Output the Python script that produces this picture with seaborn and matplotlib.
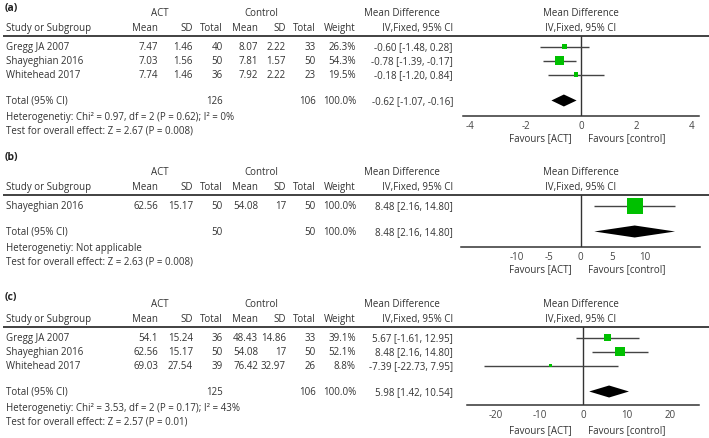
## Forest plots (ACT vs control): three meta-analysis panels drawn with seaborn/matplotlib.

import numpy as np
import pandas as pd
import matplotlib
matplotlib.use('Agg')
import matplotlib.pyplot as plt
import seaborn as sns

# ---- data ----
studies_a = ["Gregg JA 2007", "Shayeghian 2016", "Whitehead 2017"]
act_mean_a = [7.47, 7.03, 7.74]
act_sd_a = [1.46, 1.56, 1.46]
act_n_a = [40, 50, 36]
ctl_mean_a = [8.07, 7.81, 7.92]
ctl_sd_a = [2.22, 1.57, 2.22]
ctl_n_a = [33, 50, 23]
weight_a = [26.3, 54.3, 19.5]
md_a = [-0.60, -0.78, -0.18]
lo_a = [-1.48, -1.39, -1.20]
hi_a = [0.28, -0.17, 0.84]
total_a = [-0.62, -1.07, -0.16]
total_n_a = [126, 106]
het_a = "Heterogenetiy: Chi² = 0.97, df = 2 (P = 0.62); I² = 0%"
test_a = "Test for overall effect: Z = 2.67 (P = 0.008)"
ticks_a = [-4, -2, 0, 2, 4]

studies_b = ["Shayeghian 2016"]
act_mean_b = [62.56]
act_sd_b = [15.17]
act_n_b = [50]
ctl_mean_b = [54.08]
ctl_sd_b = [17]
ctl_n_b = [50]
weight_b = [100.0]
md_b = [8.48]
lo_b = [2.16]
hi_b = [14.80]
total_b = [8.48, 2.16, 14.80]
total_n_b = [50, 50]
het_b = "Heterogenetiy: Not applicable"
test_b = "Test for overall effect: Z = 2.63 (P = 0.008)"
ticks_b = [-10, -5, 0, 5, 10]

studies_c = ["Gregg JA 2007", "Shayeghian 2016", "Whitehead 2017"]
act_mean_c = [54.1, 62.56, 69.03]
act_sd_c = [15.24, 15.17, 27.54]
act_n_c = [36, 50, 39]
ctl_mean_c = [48.43, 54.08, 76.42]
ctl_sd_c = [14.86, 17, 32.97]
ctl_n_c = [33, 50, 26]
weight_c = [39.1, 52.1, 8.8]
md_c = [5.67, 8.48, -7.39]
lo_c = [-1.61, 2.16, -22.73]
hi_c = [12.95, 14.80, 7.95]
total_c = [5.98, 1.42, 10.54]
total_n_c = [125, 106]
het_c = "Heterogenetiy: Chi² = 3.53, df = 2 (P = 0.17); I² = 43%"
test_c = "Test for overall effect: Z = 2.57 (P = 0.01)"
ticks_c = [-20, -10, 0, 10, 20]

W, H = 709, 439
TXT = '#333333'
GREEN = '#00c000'
FS = 7.0

sns.set_theme(style='white')
plt.rcParams['font.family'] = ['Open Sans', 'DejaVu Sans']
plt.rcParams['axes.unicode_minus'] = False

fig = plt.figure(figsize=(W / 100, H / 100), dpi=100)
bg = fig.add_axes([0, 0, 1, 1])
bg.set_xlim(0, W)
bg.set_ylim(H, 0)
bg.axis('off')

# column right edges (pixels)
COLS = {'act_mean': 158, 'act_sd': 193, 'act_n': 223,
        'ctl_mean': 258, 'ctl_sd': 286, 'ctl_n': 316,
        'weight': 356, 'md': 453}


def txt(x, y, s, ha='right', **kw):
    kw.setdefault('fontsize', FS)
    kw.setdefault('color', TXT)
    bg.text(x, y, s, ha=ha, va='center', **kw)


def fmt(v):
    return f"{v:g}"


def draw_panel(label, label_y, head_y, df, total, total_n, het, test,
               ax_px, xmax, ticks, axis_y, fav_y):
    n = len(df)
    head2_y = head_y + 14.5
    line_y = head_y + 23
    row0 = head_y + 33.5
    rows = row0 + 14 * np.arange(n)
    total_y = row0 + 14 * (n + 1) - 2

    txt(5, label_y, label, ha='left', fontweight='bold', fontsize=7.5, color='#222222')
    txt(160, head_y, 'ACT', ha='center')
    txt(261, head_y, 'Control', ha='center')
    txt(402, head_y, 'Mean Difference', ha='center')
    txt(581, head_y, 'Mean Difference', ha='center')
    txt(6, head2_y, 'Study or Subgroup', ha='left')
    for key, name in [('act_mean', 'Mean'), ('act_sd', 'SD'), ('act_n', 'Total'),
                      ('ctl_mean', 'Mean'), ('ctl_sd', 'SD'), ('ctl_n', 'Total'),
                      ('weight', 'Weight'), ('md', 'IV,Fixed, 95% CI')]:
        txt(COLS[key], head2_y, name)
    txt(581, head2_y, 'IV,Fixed, 95% CI', ha='center')
    bg.hlines(line_y, 3, W, color=TXT, lw=1.3)

    for y, (_, r) in zip(rows, df.iterrows()):
        txt(6, y, r['study'], ha='left')
        txt(COLS['act_mean'], y, fmt(r['act_mean']))
        txt(COLS['act_sd'], y, fmt(r['act_sd']))
        txt(COLS['act_n'], y, f"{r['act_n']:.0f}")
        txt(COLS['ctl_mean'], y, fmt(r['ctl_mean']))
        txt(COLS['ctl_sd'], y, fmt(r['ctl_sd']))
        txt(COLS['ctl_n'], y, f"{r['ctl_n']:.0f}")
        txt(COLS['weight'], y, f"{r['weight']:.1f}%")
        txt(COLS['md'], y, f"{r['md']:.2f} [{r['lo']:.2f}, {r['hi']:.2f}]")

    txt(6, total_y, 'Total (95% CI)', ha='left')
    txt(COLS['act_n'], total_y, str(total_n[0]))
    txt(COLS['ctl_n'], total_y, str(total_n[1]))
    txt(COLS['weight'], total_y, '100.0%')
    txt(COLS['md'], total_y, f"{total[0]:.2f} [{total[1]:.2f}, {total[2]:.2f}]")
    txt(6, total_y + 16, het, ha='left')
    txt(6, total_y + 30, test, ha='left')

    # forest axes, y in figure pixel rows
    x0, x1 = ax_px
    ax = fig.add_axes([x0 / W, 1 - axis_y / H, (x1 - x0) / W, (axis_y - line_y) / H])
    ax.set_xlim(-xmax, xmax)
    ax.set_ylim(axis_y, line_y)
    ax.patch.set_alpha(0)
    sns.despine(ax=ax, left=True, top=True, right=True)
    ax.spines['bottom'].set_color(TXT)
    ax.spines['bottom'].set_linewidth(1.1)
    ax.set_yticks([])
    ax.set_xticks(ticks)
    ax.tick_params(axis='x', direction='inout', length=6, width=1.0, color=TXT,
                   labelsize=FS, labelcolor='#444444', pad=0)
    ax.axvline(0, color=TXT, lw=1.0)

    d = df.assign(y=rows)
    ax.hlines(d['y'], d['lo'], d['hi'], color='#444444', lw=1.0)
    side_pt = (1.5 + 14.5 * d['weight'] / 100) * 0.72
    sns.scatterplot(data=d, x='md', y='y', marker='s', color=GREEN,
                    s=side_pt ** 2, linewidth=0, ax=ax, legend=False, zorder=3)
    ax.fill([total[1], total[0], total[2], total[0]],
            [total_y, total_y - 6, total_y, total_y + 6], color='black', lw=0)
    ax.set_xlabel('')
    ax.set_ylabel('')

    txt(572, fav_y, 'Favours [ACT]', ha='right')
    txt(588, fav_y, 'Favours [control]', ha='left')


def frame(studies, am, asd, an, cm, csd, cn, w, md, lo, hi):
    return pd.DataFrame({'study': studies, 'act_mean': am, 'act_sd': asd, 'act_n': an,
                         'ctl_mean': cm, 'ctl_sd': csd, 'ctl_n': cn,
                         'weight': w, 'md': md, 'lo': lo, 'hi': hi})


df_a = frame(studies_a, act_mean_a, act_sd_a, act_n_a, ctl_mean_a, ctl_sd_a, ctl_n_a,
             weight_a, md_a, lo_a, hi_a)
df_b = frame(studies_b, act_mean_b, act_sd_b, act_n_b, ctl_mean_b, ctl_sd_b, ctl_n_b,
             weight_b, md_b, lo_b, hi_b)
df_c = frame(studies_c, act_mean_c, act_sd_c, act_n_c, ctl_mean_c, ctl_sd_c, ctl_n_c,
             weight_c, md_c, lo_c, hi_c)

draw_panel('(a)', 8, 14, df_a, total_a, total_n_a, het_a, test_a,
           (463, 699), 4.27, ticks_a, 117, 139)
draw_panel('(b)', 158, 173, df_b, total_b, total_n_b, het_b, test_b,
           (461, 700), 18.7, ticks_b, 248, 270)
draw_panel('(c)', 298, 305, df_c, total_c, total_n_c, het_c, test_c,
           (467, 699), 26.6, ticks_c, 406, 431)

fig.savefig('out.png', dpi=100)
